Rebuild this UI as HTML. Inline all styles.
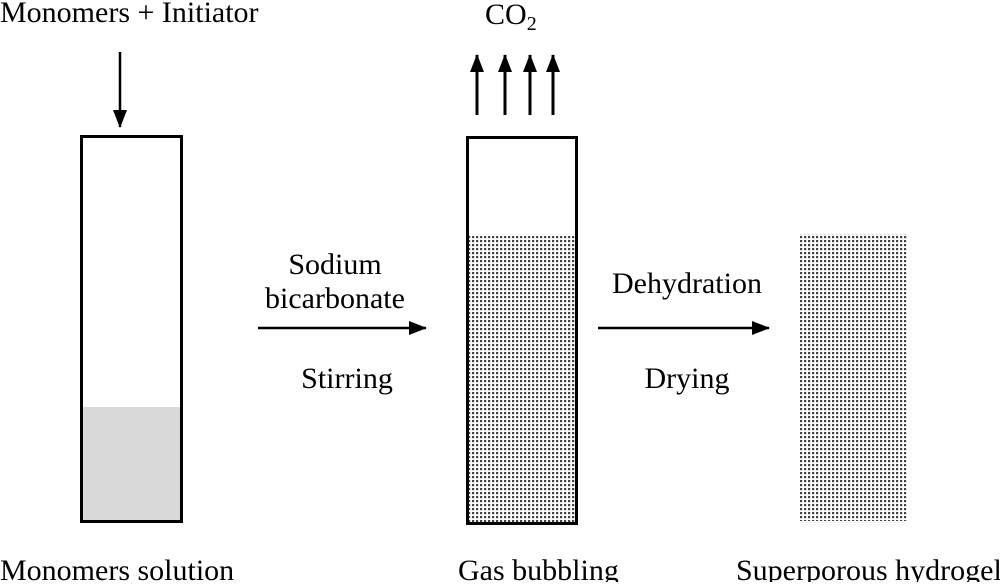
<!DOCTYPE html>
<html><head><style>body{margin:0;background:#fff}</style></head><body>
<svg width="1000" height="582" xmlns="http://www.w3.org/2000/svg" font-family="Liberation Serif, serif" font-size="30" fill="#000">
<defs>
<pattern id="d" width="4" height="4" patternUnits="userSpaceOnUse"><rect width="4" height="4" fill="#fff"/><rect width="2.2" height="2.2" fill="#444"/></pattern>
<marker id="b" markerWidth="18" markerHeight="14" refX="17" refY="7" orient="auto" markerUnits="userSpaceOnUse"><path d="M0,0 L18,7 L0,14 z" fill="#000"/></marker>
</defs>
<text x="0" y="22">Monomers + Initiator</text>
<text x="485" y="24">CO<tspan font-size="20" dy="6">2</tspan></text>
<line x1="120" y1="52" x2="120" y2="127" stroke="#000" stroke-width="2.5" marker-end="url(#b)"/>
<g stroke="#000" stroke-width="3" marker-end="url(#b)">
<line x1="477" y1="115" x2="477" y2="55"/><line x1="505" y1="115" x2="505" y2="55"/>
<line x1="530" y1="115" x2="530" y2="55"/><line x1="553" y1="115" x2="553" y2="55"/>
</g>
<rect x="81.5" y="407" width="100" height="114" fill="#d9d9d9"/>
<rect x="81.5" y="136.5" width="100" height="385" fill="none" stroke="#000" stroke-width="3"/>
<rect x="468" y="236" width="108" height="288" fill="url(#d)"/>
<rect x="467.5" y="137.5" width="109" height="386" fill="none" stroke="#000" stroke-width="3"/>
<rect x="800" y="234" width="107" height="287" fill="url(#d)"/>
<line x1="258" y1="328" x2="426" y2="328" stroke="#000" stroke-width="2.5" marker-end="url(#b)"/>
<line x1="598" y1="328" x2="769" y2="328" stroke="#000" stroke-width="2.5" marker-end="url(#b)"/>
<g text-anchor="middle">
<text x="335" y="274">Sodium</text>
<text x="335" y="308">bicarbonate</text>
<text x="347" y="388">Stirring</text>
<text x="687" y="293">Dehydration</text>
<text x="687" y="388">Drying</text>
</g>
<text x="0" y="580">Monomers solution</text>
<text x="458" y="580">Gas bubbling</text>
<text x="736" y="580">Superporous hydrogel</text>
</svg>
</body></html>
